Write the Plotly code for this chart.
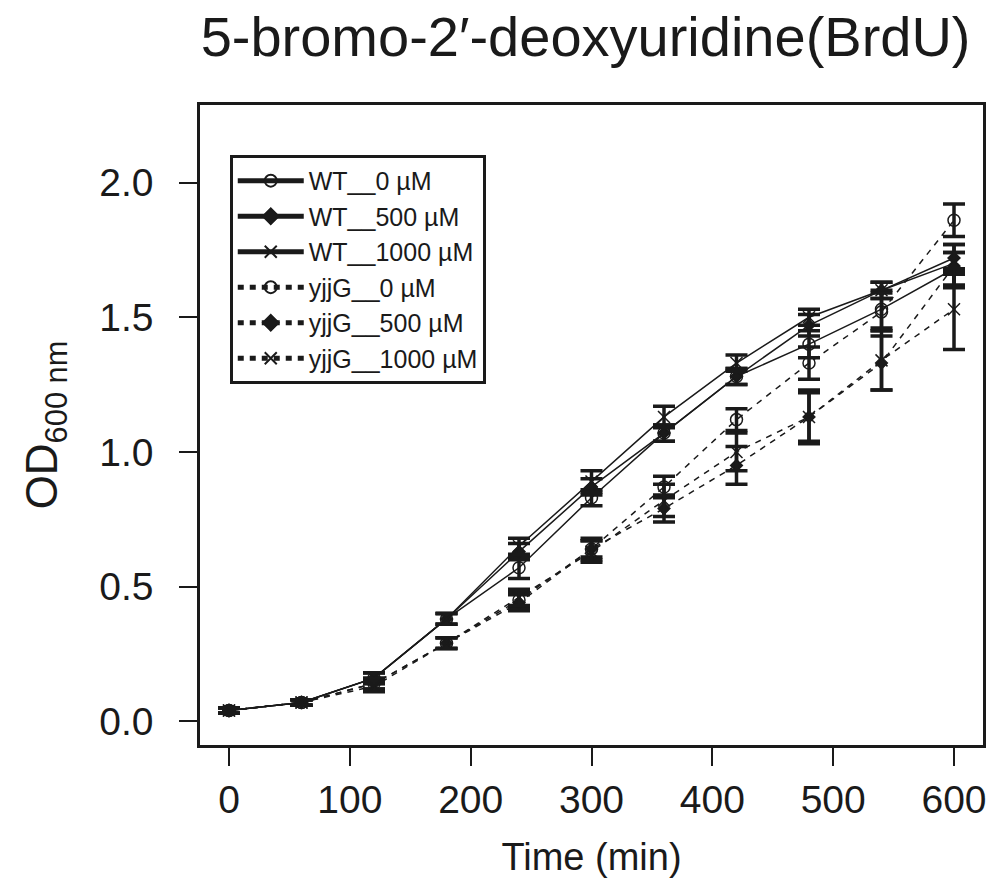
import plotly.graph_objects as go

time_min = [0, 60, 120, 180, 240, 300, 360, 420, 480, 540, 600]

wt_0 = [0.04, 0.07, 0.16, 0.38, 0.57, 0.83, 1.07, 1.28, 1.40, 1.53, 1.68]
wt_500 = [0.04, 0.07, 0.16, 0.38, 0.63, 0.87, 1.07, 1.28, 1.47, 1.60, 1.72]
wt_1000 = [0.04, 0.07, 0.16, 0.38, 0.65, 0.89, 1.13, 1.33, 1.50, 1.60, 1.70]
yjjg_0 = [0.04, 0.07, 0.14, 0.29, 0.45, 0.64, 0.87, 1.12, 1.33, 1.52, 1.86]
yjjg_500 = [0.04, 0.07, 0.14, 0.29, 0.44, 0.64, 0.79, 0.95, 1.13, 1.33, 1.69]
yjjg_1000 = [0.04, 0.07, 0.13, 0.29, 0.46, 0.63, 0.82, 1.00, 1.13, 1.34, 1.53]

wt_0_err = [0.01, 0.01, 0.02, 0.02, 0.04, 0.03, 0.03, 0.03, 0.05, 0.07, 0.06]
wt_500_err = [0.01, 0.01, 0.02, 0.02, 0.03, 0.03, 0.03, 0.03, 0.04, 0.03, 0.05]
wt_1000_err = [0.01, 0.01, 0.02, 0.02, 0.03, 0.04, 0.04, 0.03, 0.03, 0.03, 0.04]
yjjg_0_err = [0.01, 0.01, 0.02, 0.02, 0.03, 0.03, 0.04, 0.04, 0.06, 0.07, 0.06]
yjjg_500_err = [0.01, 0.01, 0.02, 0.02, 0.03, 0.04, 0.05, 0.07, 0.09, 0.10, 0.08]
yjjg_1000_err = [0.01, 0.01, 0.02, 0.02, 0.03, 0.04, 0.06, 0.07, 0.10, 0.11, 0.15]

names = ["WT__0 µM", "WT__500 µM", "WT__1000 µM",
         "yjjG__0 µM", "yjjG__500 µM", "yjjG__1000 µM"]
series = [wt_0, wt_500, wt_1000, yjjg_0, yjjg_500, yjjg_1000]
errors = [wt_0_err, wt_500_err, wt_1000_err, yjjg_0_err, yjjg_500_err, yjjg_1000_err]
symbols = ["circle-open", "diamond", "x-thin-open",
           "circle-open", "diamond", "x-thin-open"]
sizes = [12, 9, 12, 12, 9, 12]
dashes = ["solid", "solid", "solid", "6px,6px", "6px,6px", "6px,6px"]

FONT = "Liberation Sans, Arial, Helvetica, sans-serif"
INK = "#1a1a1a"

fig = go.Figure()
for name, ys, err, sym, sz, dash in zip(names, series, errors, symbols, sizes, dashes):
    fig.add_trace(go.Scatter(
        x=time_min, y=ys, name=name, mode="lines+markers",
        line=dict(color=INK, width=1.5, dash=dash),
        marker=dict(symbol=sym, size=sz, color=INK,
                    line=dict(color=INK, width=1.5)),
        error_y=dict(type="data", array=err, visible=True,
                     color=INK, thickness=3.5, width=11),
    ))

fig.update_layout(
    width=1001, height=887,
    margin=dict(l=200, r=18, t=105, b=142),
    paper_bgcolor="white", plot_bgcolor="white",
    font=dict(family=FONT, color=INK),
    title=dict(text="5-bromo-2′-deoxyuridine(BrdU)",
               font=dict(family=FONT, size=56, color=INK),
               x=0.585, xref="container", xanchor="center",
               y=0.959, yref="container", yanchor="middle"),
    showlegend=True,
    legend=dict(x=0.038, y=0.922, xanchor="left", yanchor="top",
                bgcolor="white", bordercolor=INK, borderwidth=3,
                font=dict(family=FONT, size=25, color=INK),
                tracegroupgap=0, itemsizing="constant", itemwidth=66),
)

fig.update_xaxes(
    range=[-24, 624], tickvals=[0, 100, 200, 300, 400, 500, 600],
    showgrid=False, zeroline=False, automargin=False,
    showline=True, mirror=True, linecolor=INK, linewidth=2.5,
    ticks="outside", ticklen=18, tickwidth=2, tickcolor=INK,
    ticklabelstandoff=0,
    tickfont=dict(family=FONT, size=39, color=INK),
    title=dict(text="Time (min)", font=dict(family=FONT, size=38, color=INK),
               standoff=24),
)
fig.update_yaxes(
    range=[-0.088, 2.288], tickvals=[0, 0.5, 1.0, 1.5, 2.0],
    tickformat=".1f",
    showgrid=False, zeroline=False, automargin=False,
    showline=True, mirror=True, linecolor=INK, linewidth=2.5,
    ticks="outside", ticklen=18, tickwidth=2, tickcolor=INK,
    ticklabelstandoff=18,
    tickfont=dict(family=FONT, size=39, color=INK),
    title=dict(text="OD<sub>600 nm</sub>", font=dict(family=FONT, size=44, color=INK),
               standoff=28),
)

fig.write_html("out.html")
